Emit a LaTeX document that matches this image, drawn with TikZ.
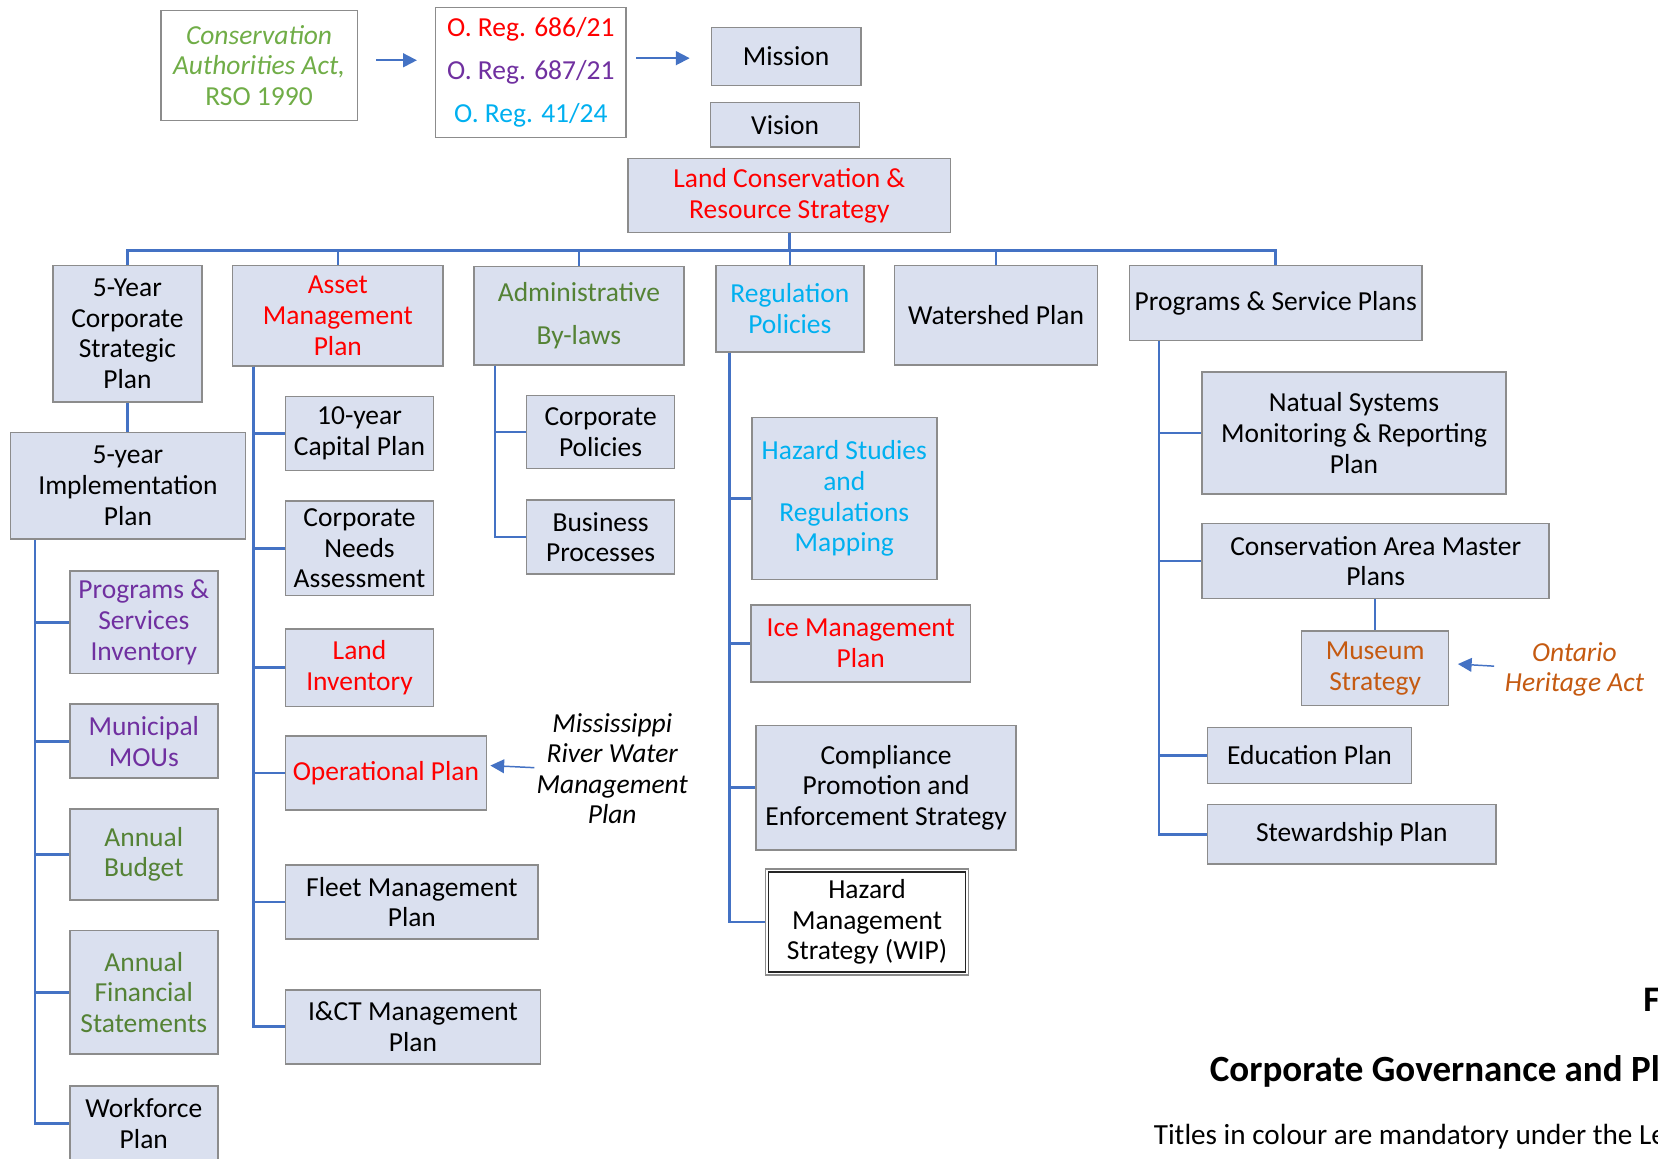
\documentclass[tikz,border=0pt]{standalone}
\usepackage{fontspec}
\setmainfont{Carlito}
\usetikzlibrary{arrows.meta,calc}
\definecolor{boxfill}{HTML}{DAE0EF}
\definecolor{boxline}{HTML}{8C8C8C}
\definecolor{conn}{HTML}{4472C4}
\definecolor{cred}{HTML}{FF0000}
\definecolor{cpurple}{HTML}{7030A0}
\definecolor{ccyan}{HTML}{00B0F0}
\definecolor{clgreen}{HTML}{70AD47}
\definecolor{cdgreen}{HTML}{548235}
\definecolor{corange}{HTML}{C55A11}
\begin{document}
\begin{tikzpicture}[x=1pt,y=-1pt,
  box/.style={draw=boxline, line width=1.5pt, fill=boxfill, inner sep=0pt, align=center, font=\fontsize{26}{29}\selectfont},
  wbox/.style={box, fill=white},
  lbl/.style={inner sep=0pt, align=center},
  link/.style={draw=conn, line width=2.5pt},
  arr/.style={draw=conn, line width=1.8pt, -{Triangle[length=13pt,width=13pt]}}]
\clip (0,0) rectangle (1568,1096);
\fill[white] (0,0) rectangle (1568,1096);

% top row
\node[wbox, text=clgreen, minimum width=186pt, minimum height=104pt] (caa) at (245,62) {\textit{Conservation}\\\textit{Authorities Act,}\\RSO 1990};
\node[wbox, minimum width=180pt, minimum height=123pt] (oreg) at (502,68.5) {\textcolor{cred}{O. Reg. 686/21}\\[11.5pt]\textcolor{cpurple}{O. Reg. 687/21}\\[11.5pt]\textcolor{ccyan}{O. Reg. 41/24}};
\node[box, minimum width=141pt, minimum height=55pt] (mission) at (743.5,53.5) {Mission};
\node[box, minimum width=141pt, minimum height=42pt] (vision) at (742.5,118) {Vision};
\node[box, text=cred, minimum width=305pt, minimum height=70pt] (lcrs) at (746.5,185) {Land Conservation \&\\Resource Strategy};

% second level
\node[box, minimum width=141pt, minimum height=129pt] (csp) at (120.5,315.5) {5-Year\\Corporate\\Strategic\\Plan};
\node[box, text=cred, minimum width=199pt, minimum height=95pt] (amp) at (319.5,298.5) {Asset\\Management\\Plan};
\node[box, text=cdgreen, minimum width=199pt, minimum height=93pt] (adm) at (547.5,298.5) {Administrative\\[11pt]By-laws};
\node[box, text=ccyan, minimum width=140pt, minimum height=82pt] (reg) at (747,292) {Regulation\\Policies};
\node[box, minimum width=192pt, minimum height=94pt] (wsp) at (942,298) {Watershed Plan};
\node[box, minimum width=277pt, minimum height=71pt] (psp) at (1206.5,286.5) {Programs \& Service Plans};

% left branch
\node[box, minimum width=222pt, minimum height=101pt] (imp) at (121,459.5) {5-year\\Implementation\\Plan};
\node[box, text=cpurple, minimum width=140pt, minimum height=97pt] (psi) at (136,588.5) {Programs \&\\Services\\Inventory};
\node[box, text=cpurple, minimum width=140pt, minimum height=70pt] (mou) at (136,701) {Municipal\\MOUs};
\node[box, text=cdgreen, minimum width=140pt, minimum height=86pt] (bud) at (136,808) {Annual\\Budget};
\node[box, text=cdgreen, minimum width=140pt, minimum height=117pt] (afs) at (136,938.5) {Annual\\Financial\\Statements};
\node[box, minimum width=140pt, minimum height=71pt] (wfp) at (136,1062.5) {Workforce\\Plan};

% asset branch
\node[box, minimum width=140pt, minimum height=70pt] (cap) at (340,410) {10-year\\Capital Plan};
\node[box, minimum width=140pt, minimum height=89pt] (cna) at (340,518.5) {Corporate\\Needs\\Assessment};
\node[box, text=cred, minimum width=140pt, minimum height=73pt] (lin) at (340,631.5) {Land\\Inventory};
\node[box, text=cred, minimum width=190pt, minimum height=70pt] (opp) at (365,731) {Operational Plan};
\node[box, minimum width=239pt, minimum height=70pt] (flt) at (389.5,853) {Fleet Management\\Plan};
\node[box, minimum width=241pt, minimum height=70pt] (ict) at (390.5,971) {I\&CT Management\\Plan};
\node[lbl, font=\itshape\fontsize{26}{28.7}\selectfont] (mis) at (579,727) {Mississippi\\River Water\\Management\\Plan};

% admin branch
\node[box, minimum width=140pt, minimum height=69pt] (cpo) at (568,408.5) {Corporate\\Policies};
\node[box, minimum width=140pt, minimum height=70pt] (bpr) at (568,508) {Business\\Processes};

% regulation branch
\node[box, text=ccyan, minimum width=175pt, minimum height=153pt] (hsr) at (798.5,471.5) {Hazard Studies\\and\\Regulations\\Mapping};
\node[box, text=cred, minimum width=208pt, minimum height=73pt] (ice) at (814,608.5) {Ice Management\\Plan};
\node[box, minimum width=246pt, minimum height=118pt] (cpe) at (838,745) {Compliance\\Promotion and\\Enforcement Strategy};
\node[wbox, minimum width=192pt, minimum height=100pt] (hms) at (820,872) {Hazard\\Management\\Strategy (WIP)};
\draw[black!85, line width=1.2pt] ($(hms.north west)+(3.5,3.5)$) rectangle ($(hms.south east)+(-3.5,-3.5)$);

% programs branch
\node[box, minimum width=287pt, minimum height=115pt] (nsm) at (1280.5,409.5) {Natual Systems\\Monitoring \& Reporting\\Plan};
\node[box, minimum width=328pt, minimum height=71pt] (camp) at (1301,530.5) {Conservation Area Master\\Plans};
\node[box, text=corange, minimum width=139pt, minimum height=70pt] (mus) at (1300.5,632) {Museum\\Strategy};
\node[lbl, text=corange, font=\itshape\fontsize{26}{28}\selectfont] (oha) at (1489,633) {Ontario\\Heritage Act};
\node[box, minimum width=193pt, minimum height=53pt] (edu) at (1238.5,714.5) {Education Plan};
\node[box, minimum width=273pt, minimum height=56pt] (stw) at (1278.5,789) {Stewardship Plan};

% bottom right texts
\node[anchor=base west, inner sep=0pt, font=\bfseries\fontsize{34}{37}\selectfont] (fr) at (1554,957) {F};
\node[anchor=base west, inner sep=0pt, font=\bfseries\fontsize{35}{38}\selectfont] (cg) at (1144,1023) {Corporate Governance and Pl};
\node[anchor=base west, inner sep=0pt, font=\fontsize{27.6}{30}\selectfont] (tic) at (1091,1082) {Titles in colour are mandatory under the Le};

% connectors
\coordinate (busY) at (0,237);
\draw[link] (lcrs.south) -- (lcrs.south |- busY);
\foreach \n in {csp,amp,adm,reg,wsp,psp} \draw[link] (lcrs.south |- busY) -| (\n.north);
\draw[link] (csp.south) -- (csp.south |- imp.north);
\foreach \n in {psi,mou,bud,afs,wfp} \draw[link] (imp.south -| 33,0) |- (\n.west);
\foreach \n in {cap,cna,lin,opp,flt,ict} \draw[link] (amp.south -| 240,0) |- (\n.west);
\foreach \n in {cpo,bpr} \draw[link] (adm.south -| 468,0) |- (\n.west);
\foreach \n in {hsr,ice,cpe,hms} \draw[link] (reg.south -| 690,0) |- (\n.west);
\foreach \n in {nsm,camp,edu,stw} \draw[link] (psp.south -| 1096,0) |- (\n.west);
\draw[link] (camp.south -| mus.north) -- (mus.north);

% arrows
\draw[arr] ($(caa.east)+(17,-5)$) -- ($(oreg.west)+(-17,-11.5)$);
\draw[arr] ($(oreg.east)+(9,-13.5)$) -- ($(mission.west)+(-20,1.5)$);
\draw[arr, line width=1.4pt] ($(mis.west)+(-2,-1)$) -- ($(opp.east)+(3,-7)$);
\draw[arr, line width=1.4pt] ($(oha.west)+(-10,-3)$) -- ($(mus.east)+(8,-4)$);
\end{tikzpicture}
\end{document}
